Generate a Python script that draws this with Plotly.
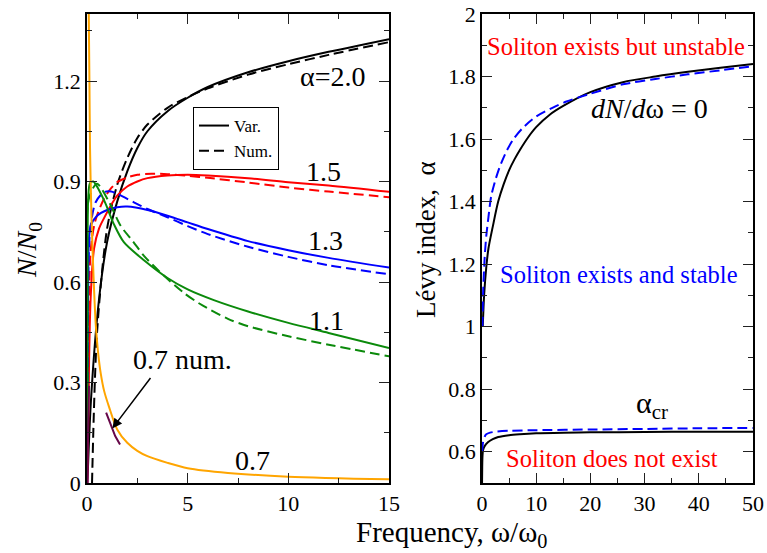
import plotly.graph_objects as go

# ---------------- Left panel data: N/N0 vs omega/omega0 ----------------
a20_var_x = [0.02, 0.2, 0.6, 1.0, 1.5, 2.0, 2.5, 3.0, 4.0, 5.0, 6.0, 8.0, 10.0, 12.0, 15.0]
a20_var_y = [0.0, 0.25, 0.55, 0.72, 0.84, 0.93, 1.0, 1.05, 1.11, 1.15, 1.182, 1.226, 1.259, 1.287, 1.325]
a20_num_x = [0.25, 0.5, 1.0, 1.5, 2.0, 2.5, 3.0, 4.0, 5.0, 6.0, 8.0, 10.0, 12.0, 15.0]
a20_num_y = [0.0, 0.45, 0.76, 0.89, 0.97, 1.03, 1.07, 1.12, 1.152, 1.178, 1.219, 1.25, 1.278, 1.316]

a15_var_x = [0.02, 0.1, 0.18, 0.35, 0.6, 0.84, 1.2, 1.5, 2.0, 2.5, 3.0, 4.0, 5.0, 6.0, 8.0, 10.0, 12.0, 15.0]
a15_var_y = [0.0, 0.35, 0.55, 0.70, 0.76, 0.79, 0.83, 0.858, 0.885, 0.90, 0.91, 0.918, 0.92, 0.918, 0.91, 0.898, 0.888, 0.869]
a15_num_x = [0.05, 0.18, 0.4, 0.84, 1.2, 1.5, 2.0, 2.5, 3.2, 4.0, 5.0, 6.0, 8.0, 10.0, 12.0, 15.0]
a15_num_y = [0.2, 0.69, 0.78, 0.848, 0.88, 0.898, 0.912, 0.92, 0.923, 0.922, 0.917, 0.911, 0.897, 0.882, 0.87, 0.853]

a13_var_x = [0.01, 0.05, 0.18, 0.5, 1.0, 1.5, 2.0, 3.0, 4.0, 5.0, 6.0, 8.0, 10.0, 12.0, 15.0]
a13_var_y = [0.0, 0.55, 0.768, 0.798, 0.815, 0.823, 0.825, 0.815, 0.798, 0.778, 0.758, 0.722, 0.695, 0.672, 0.643]
a13_num_x = [0.03, 0.15, 0.43, 0.84, 1.2, 1.5, 2.33, 3.0, 4.0, 5.0, 6.0, 8.0, 10.0, 12.0, 15.0]
a13_num_y = [0.3, 0.75, 0.838, 0.868, 0.87, 0.863, 0.838, 0.818, 0.793, 0.767, 0.743, 0.705, 0.675, 0.65, 0.623]

a11_var_x = [0.0, 0.03, 0.06, 0.15, 0.31, 0.84, 1.34, 1.84, 2.83, 4.0, 5.0, 6.3, 8.0, 10.0, 12.0, 15.0]
a11_var_y = [0.0, 0.5, 0.85, 0.895, 0.9, 0.845, 0.772, 0.718, 0.665, 0.612, 0.578, 0.546, 0.512, 0.478, 0.448, 0.403]
a11_num_x = [0.03, 0.1, 0.5, 1.1, 1.67, 2.3, 2.83, 3.8, 4.8, 5.6, 7.0, 8.0, 10.0, 12.0, 15.0]
a11_num_y = [0.3, 0.85, 0.893, 0.838, 0.768, 0.72, 0.678, 0.62, 0.568, 0.535, 0.49, 0.468, 0.438, 0.413, 0.378]

a07_var_x = [0.08, 0.12, 0.15, 0.22, 0.31, 0.35, 0.43, 0.55, 0.68, 0.85, 1.09, 1.5, 2.0, 2.5, 3.0, 4.0, 5.0, 7.0, 10.0, 15.0]
a07_var_y = [1.45, 1.2, 1.0, 0.8, 0.64, 0.578, 0.478, 0.39, 0.328, 0.275, 0.228, 0.16, 0.12, 0.096, 0.08, 0.06, 0.044, 0.03, 0.019, 0.011]
a07_num_x = [0.0, 0.1, None, 0.95, 1.2, 1.4, 1.64]
a07_num_y = [0.0, 0.29, None, 0.21, 0.17, 0.14, 0.115]

curve_labels = ["α=2.0", "1.5", "1.3", "1.1", "0.7"]
curve_label_x = [12.2, 11.77, 11.82, 11.87, 8.22]
curve_label_y = [1.214, 0.931, 0.723, 0.485, 0.068]

# ---------------- Right panel data: alpha vs omega/omega0 ----------------
stab_var_x = [0.15, 0.4, 0.8, 1.2, 2.0, 3.0, 4.0, 5.0, 6.0, 7.0, 8.5, 10.0, 12.5, 15.0, 20.0, 26.0, 32.0, 38.0, 44.0, 50.0]
stab_var_y = [1.0, 1.1, 1.19, 1.25, 1.32, 1.40, 1.455, 1.50, 1.535, 1.565, 1.605, 1.638, 1.678, 1.706, 1.75, 1.782, 1.80, 1.815, 1.828, 1.84]
stab_num_x = [0.1, 0.2, 0.5, 0.8, 1.2, 1.7, 2.5, 3.3, 4.5, 5.7, 7.5, 10.0, 13.0, 15.6, 20.0, 26.0, 32.0, 38.0, 44.0, 50.0]
stab_num_y = [1.0, 1.1, 1.22, 1.29, 1.35, 1.417, 1.47, 1.512, 1.56, 1.597, 1.635, 1.672, 1.70, 1.72, 1.745, 1.775, 1.792, 1.807, 1.82, 1.833]

acr_var_x = [0.02, 0.05, 0.1, 0.2, 0.5, 1.1, 2.0, 3.0, 5.0, 7.0, 10.0, 15.0, 20.0, 30.0, 40.0, 50.0]
acr_var_y = [0.5, 0.55, 0.585, 0.605, 0.618, 0.63, 0.64, 0.647, 0.653, 0.656, 0.659, 0.661, 0.662, 0.663, 0.664, 0.664]
acr_num_x = [0.05, 0.2, 0.5, 0.8, 1.5, 2.5, 5.0, 10.0, 20.0, 30.0, 40.0, 50.0]
acr_num_y = [0.60, 0.63, 0.648, 0.656, 0.661, 0.664, 0.667, 0.669, 0.671, 0.673, 0.675, 0.676]

FONT = "Liberation Serif, Times New Roman, serif"
BLACK = "#000000"
RED = "#FF0000"
BLUE = "#0000FF"
GREEN = "#0B8A0B"
ORANGE = "#FFA500"
MAROON = "#670748"
DASH = "10px,5px"
LW = 2

fig = go.Figure()

def add(x, y, color, dash, xa="x", ya="y", shape="spline"):
    fig.add_trace(go.Scatter(x=x, y=y, mode="lines", xaxis=xa, yaxis=ya,
                             line=dict(color=color, width=LW, dash=dash, shape=shape, smoothing=0.8),
                             showlegend=False, hoverinfo="skip"))

add(a20_var_x, a20_var_y, BLACK, "solid")
add(a20_num_x, a20_num_y, BLACK, DASH)
add(a15_var_x, a15_var_y, RED, "solid")
add(a15_num_x, a15_num_y, RED, DASH)
add(a13_var_x, a13_var_y, BLUE, "solid")
add(a13_num_x, a13_num_y, BLUE, DASH)
add(a11_var_x, a11_var_y, GREEN, "solid")
add(a11_num_x, a11_num_y, GREEN, DASH)
add(a07_var_x, a07_var_y, ORANGE, "solid")
add(a07_num_x, a07_num_y, MAROON, "solid", shape="linear")

add(stab_var_x, stab_var_y, BLACK, "solid", "x2", "y2")
add(stab_num_x, stab_num_y, BLUE, DASH, "x2", "y2")
add(acr_var_x, acr_var_y, BLACK, "solid", "x2", "y2")
add(acr_num_x, acr_num_y, BLUE, DASH, "x2", "y2")

# legend entries
fig.add_trace(go.Scatter(x=[None], y=[None], mode="lines", name="Var.",
                         line=dict(color=BLACK, width=LW)))
fig.add_trace(go.Scatter(x=[None], y=[None], mode="lines", name="Num.",
                         line=dict(color=BLACK, width=LW, dash=DASH)))

def ann(x, y, text, xref, yref, size, color=BLACK, **kw):
    d = dict(x=x, y=y, xref=xref, yref=yref, text=text, showarrow=False,
             xanchor="center", yanchor="middle",
             font=dict(family=FONT, size=size, color=color))
    d.update(kw)
    return d

annotations = []
for t, x, y in zip(curve_labels, curve_label_x, curve_label_y):
    annotations.append(ann(x, y, t, "x", "y", 28))
annotations.append(ann(4.74, 0.368, "0.7 num.", "x", "y", 28))
annotations.append(dict(x=1.26, y=0.163, ax=3.21, ay=0.318, xref="x", yref="y",
                        axref="x", ayref="y", text="", showarrow=True,
                        arrowhead=2, arrowsize=1.3, arrowwidth=1.5, arrowcolor=BLACK))

annotations += [
    ann(24.8, 1.897, "Soliton exists but unstable", "x2", "y2", 24.5, RED),
    ann(25.2, 1.167, "Soliton exists and stable", "x2", "y2", 24.5, BLUE),
    ann(23.9, 0.577, "Soliton does not exist", "x2", "y2", 24.5, RED),
    ann(30.9, 1.699, "<i>dN</i>/<i>d</i>ω = 0", "x2", "y2", 28),
    ann(31.3, 0.75, "α<sub>cr</sub>", "x2", "y2", 30),
    # axis titles
    ann((451 - 87) / 666, (483 - 534) / 469, "Frequency, ω/ω<sub>0</sub>", "paper", "paper", 29),
    ann((28 - 87) / 666, (483 - 250) / 469, "<i>N</i>/<i>N</i><sub>0</sub>", "paper", "paper", 28,
        textangle=-90),
    ann((426 - 87) / 666, (483 - 240) / 469, "Lévy index,  α", "paper", "paper", 27,
        textangle=-90),
]

axis_common = dict(showgrid=False, zeroline=False, showline=True, linecolor=BLACK,
                   linewidth=1.8, mirror="allticks", ticks="inside", ticklen=10,
                   tickwidth=1.2, tickcolor="#222222", automargin=False,
                   tickfont=dict(family=FONT, size=22, color=BLACK))
minor_common = dict(ticks="inside", ticklen=5, tickcolor="#222222", tickwidth=1.2, showgrid=False)

fig.update_layout(
    width=767, height=553,
    margin=dict(l=87, r=14, t=14, b=70, autoexpand=False),
    paper_bgcolor="white", plot_bgcolor="white",
    font=dict(family=FONT, color=BLACK),
    xaxis=dict(domain=[0, 0.4535], range=[0, 15], tickmode="linear", tick0=0, dtick=5,
               minor=dict(dtick=2.5, tick0=0, **minor_common), anchor="y", **axis_common),
    yaxis=dict(domain=[0, 1], range=[0, 1.4], tickmode="linear", tick0=0, dtick=0.3,
               minor=dict(dtick=0.15, tick0=0, **minor_common), anchor="x", **axis_common),
    xaxis2=dict(domain=[0.593, 1], range=[0, 50], tickmode="linear", tick0=0, dtick=10,
                minor=dict(dtick=5, tick0=0, **minor_common), anchor="y2", **axis_common),
    yaxis2=dict(domain=[0, 1], range=[0.5, 2], tickmode="linear", tick0=0, dtick=0.2,
                minor=dict(dtick=0.1, tick0=0, **minor_common), anchor="x2", **axis_common),
    legend=dict(x=(193 - 87) / 666, y=(483 - 107) / 469, xanchor="left", yanchor="top",
                bgcolor="white", bordercolor=BLACK, borderwidth=1,
                font=dict(family=FONT, size=17, color=BLACK), tracegroupgap=0,
                itemwidth=30),
    annotations=annotations,
    showlegend=True,
)

fig.write_html("out.html", config={"displayModeBar": False},
               post_script="document.body.style.margin='0px';")
